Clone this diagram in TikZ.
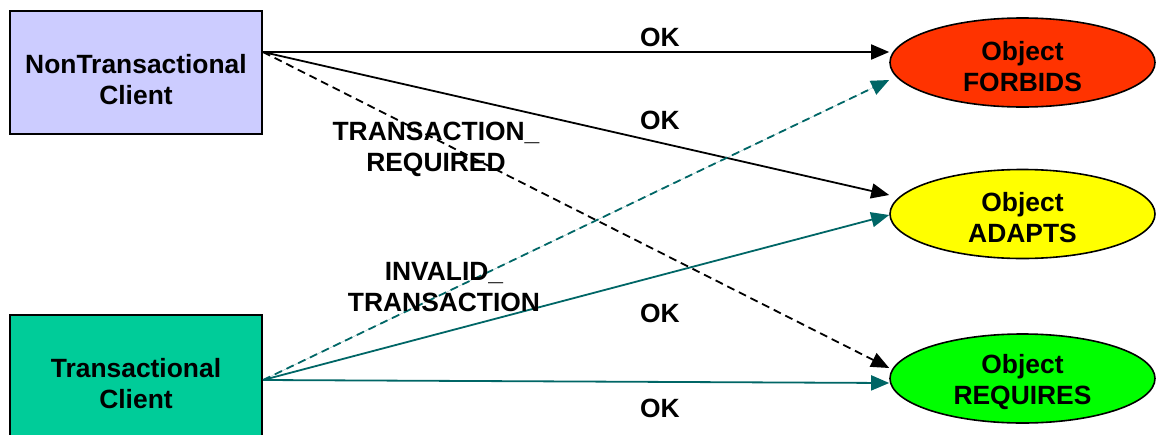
\documentclass[tikz,border=0pt]{standalone}
\usepackage{fontspec}
\setmainfont{Liberation Sans}
\usetikzlibrary{arrows.meta,calc,shapes.geometric}
\definecolor{lav}{HTML}{CCCCFF}
\definecolor{tgreen}{HTML}{00CC99}
\definecolor{fred}{HTML}{FF3300}
\definecolor{ayellow}{HTML}{FFFF00}
\definecolor{rgreen}{HTML}{00FF00}
\definecolor{tealline}{HTML}{006666}
\begin{document}
\begin{tikzpicture}[x=0.5pt,y=-0.5pt,
  txt/.style={font=\fontsize{13.2}{15.5}\selectfont\bfseries, align=center, inner sep=0pt},
  clientbox/.style={draw=black, line width=1pt, minimum width=126pt, minimum height=61.5pt, inner sep=0pt},
  objell/.style={ellipse, draw=black, line width=0.8pt, minimum width=132.5pt, minimum height=44.5pt, inner sep=0pt},
  conn/.style={line width=0.9pt, -{Triangle[length=9pt,width=7.5pt]}},
  dashconn/.style={conn, dash pattern=on 4pt off 2.5pt}
]
\useasboundingbox (0,0) rectangle (1157,434);
% client boxes
\node[clientbox, fill=lav] (nt) at (136,72.5) {};
\node[txt] (ntl) at (136,79.5) {NonTransactional\\Client};
\node[clientbox, fill=tgreen] (tr) at (136,376.5) {};
\node[txt] (trl) at (136,383.5) {Transactional\\Client};
% object ellipses
\node[objell, fill=fred] (fo) at (1022.5,62.5) {};
\node[txt] (fol) at (1022.5,66.5) {Object\\FORBIDS};
\node[objell, fill=ayellow] (ad) at (1022.5,214) {};
\node[txt] (adl) at (1022.5,218) {Object\\ADAPTS};
\node[objell, fill=rgreen] (rq) at (1022.5,378.5) {};
\node[txt] (rql) at (1022.5,382.5) {Object\\REQUIRES};
% connector start points on the box edges
\coordinate (ntout) at ($(nt.east)+(0,-20.5)$);
\coordinate (trout) at ($(tr.east)+(0,3.5)$);
% connectors
\draw[conn] (ntout) -- ($(fo.west)+(0,-10.5)$);
\draw[conn] (ntout) -- ($(ad.west)+(0,-19)$);
\draw[dashconn] (ntout) -- ($(rq.west)+(0,-10.5)$);
\draw[dashconn, draw=tealline, fill=tealline] (trout) -- ($(fo.west)+(0,17.5)$);
\draw[conn, draw=tealline, fill=tealline] (trout) -- ($(ad.west)+(0,1)$);
\draw[conn, draw=tealline, fill=tealline] (trout) -- ($(rq.west)+(0,4.5)$);
% labels
\node[txt] (ok1) at (660,37) {OK};
\node[txt] (ok2) at (660,120) {OK};
\node[txt] (treq) at (436,149) {TRANSACTION\_\\REQUIRED};
\node[txt] (inv) at (444,287.5) {INVALID\_\\TRANSACTION};
\node[txt] (ok3) at (660,313) {OK};
\node[txt] (ok4) at (660,408) {OK};
\end{tikzpicture}
\end{document}
